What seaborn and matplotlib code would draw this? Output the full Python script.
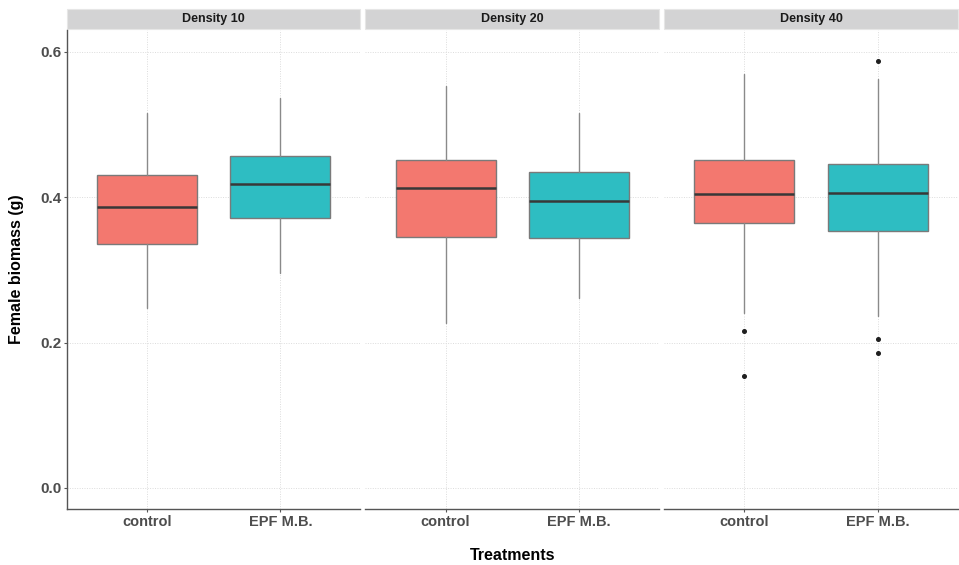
import matplotlib
matplotlib.use("Agg")
import matplotlib.pyplot as plt
from matplotlib.patches import Rectangle
import numpy as np
import pandas as pd
import seaborn as sns

# Box summaries of female biomass (g) per density and treatment
densities = ["Density 10", "Density 20", "Density 40"]
treatments = ["control", "EPF M.B."]

whisker_low = [0.247, 0.295, 0.227, 0.261, 0.241, 0.237]
q1 = [0.336, 0.372, 0.345, 0.344, 0.364, 0.354]
median = [0.387, 0.418, 0.413, 0.395, 0.405, 0.406]
q3 = [0.431, 0.456, 0.451, 0.435, 0.451, 0.445]
whisker_high = [0.516, 0.537, 0.553, 0.516, 0.570, 0.563]
outliers = [[], [], [], [], [0.216, 0.154], [0.587, 0.205, 0.185]]

box_colors = {"control": "#F3786F", "EPF M.B.": "#2EBDC2"}

df = pd.DataFrame({
    "density": [d for d in densities for _ in treatments],
    "treatment": treatments * len(densities),
    "lo": whisker_low, "q1": q1, "med": median, "q3": q3, "hi": whisker_high,
    "fliers": outliers,
})

sns.set_theme(style="white")
plt.rcParams["font.family"] = ["Liberation Sans", "DejaVu Sans"]
plt.rcParams["font.weight"] = "bold"

W, H = 959, 565
g = sns.FacetGrid(df, col="density", col_order=densities, sharey=True,
                  height=H / 100, aspect=(W / 3) / H, despine=False)


def draw_boxes(data, **kws):
    ax = plt.gca()
    stats = []
    for _, r in data.iterrows():
        stats.append(dict(whislo=r["lo"], q1=r["q1"], med=r["med"], q3=r["q3"],
                          whishi=r["hi"], fliers=np.array(r["fliers"]),
                          label=r["treatment"]))
    positions = [treatments.index(t) + 1 for t in data["treatment"]]
    bp = ax.bxp(stats, positions=positions, widths=0.75, patch_artist=True,
                showcaps=False, manage_ticks=False,
                boxprops=dict(edgecolor="#7a7a7a", linewidth=1.0),
                medianprops=dict(color="#383838", linewidth=1.8),
                whiskerprops=dict(color="#8a8a8a", linewidth=1.0),
                flierprops=dict(marker="o", markersize=2.6,
                                markerfacecolor="#1f1f1f",
                                markeredgecolor="#1f1f1f"),
                zorder=3)
    for patch, t in zip(bp["boxes"], data["treatment"]):
        patch.set_facecolor(box_colors[t])


g.map_dataframe(draw_boxes)

# fixed panel geometry (after the grid's own layout pass)
g.figure.set_size_inches(W / 100, H / 100)
g.figure.set_dpi(100)
ax_left, ax_right, ax_top, ax_bottom = 66.7, 958, 30, 509
panel_w = (ax_right - ax_left - 2 * 5) / 3
g.figure.subplots_adjust(left=ax_left / W, right=ax_right / W,
                         top=1 - ax_top / H, bottom=1 - ax_bottom / H,
                         wspace=5 / panel_w)

strip_h = 20 / (ax_bottom - ax_top)
gap = 1 / (ax_bottom - ax_top)
for i, (ax, title) in enumerate(zip(g.axes.flat, densities)):
    ax.set_xlim(0.4, 2.6)
    ax.set_ylim(-0.029, 0.630)
    ax.set_xticks([1, 2])
    ax.set_xticklabels(treatments)
    ax.set_yticks([0.0, 0.2, 0.4, 0.6])
    ax.set_yticklabels(["0.0", "0.2", "0.4", "0.6"])
    ax.grid(True, linestyle=(0, (1, 1.5)), color="#dcdcdc", linewidth=0.7)
    ax.set_axisbelow(True)
    for side in ["top", "right", "left"]:
        ax.spines[side].set_visible(False)
    ax.spines["bottom"].set_color("#555555")
    ax.spines["bottom"].set_linewidth(1.0)
    ax.tick_params(axis="x", length=2.2, width=0.8, color="#555555",
                   labelsize=10.5, labelcolor="#4D4D4D", pad=2, bottom=True)
    if i == 0:
        ax.spines["left"].set_visible(True)
        ax.spines["left"].set_color("#555555")
        ax.spines["left"].set_linewidth(1.0)
        ax.tick_params(axis="y", length=2.2, width=0.8, color="#555555",
                       labelsize=11, labelcolor="#4D4D4D", pad=1.5, left=True,
                       labelleft=True)
    else:
        ax.tick_params(axis="y", length=0, labelleft=False)
    for lab in ax.get_xticklabels() + ax.get_yticklabels():
        lab.set_fontweight("bold")
    ax.set_title("")
    ax.set_xlabel("")
    ax.set_ylabel("")
    ax.add_patch(Rectangle((0, 1 + gap), 1, strip_h, transform=ax.transAxes,
                           facecolor="#D3D3D4", edgecolor="#e6e6e6",
                           linewidth=0.8, clip_on=False))
    ax.text(0.5, 1 + gap + strip_h / 2, title, transform=ax.transAxes,
            ha="center", va="center", fontsize=9, fontweight="bold",
            color="#1a1a1a")

g.figure.text((ax_left + ax_right) / 2 / W, 1 - 555 / H, "Treatments",
              ha="center", va="center", fontsize=11.5, fontweight="bold",
              color="black")
g.figure.text(17 / W, 1 - ((ax_top + ax_bottom) / 2) / H, "Female biomass (g)",
              ha="center", va="center", rotation=90, fontsize=11.5,
              fontweight="bold", color="black")

g.figure.savefig("out.png", dpi=100, facecolor="white")
